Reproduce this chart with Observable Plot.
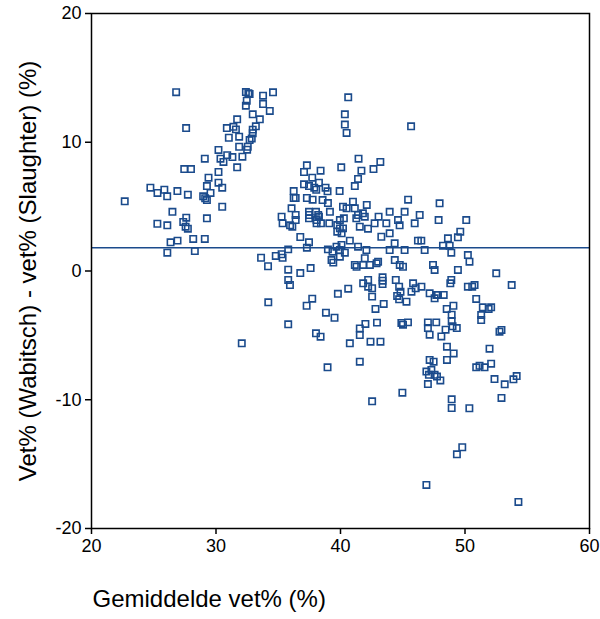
<!DOCTYPE html>
<html>
<head>
<meta charset="utf-8">
<script src="https://cdn.jsdelivr.net/npm/d3@7"></script>
<script src="https://cdn.jsdelivr.net/npm/@observablehq/plot@0.6"></script>
<style>
  html, body { margin: 0; padding: 0; background: #fff; }
  #chart svg { display: block; }
</style>
</head>
<body>
<div id="chart"></div>
<script>
// Gemiddelde vet% (x) and verschil Wabitsch - Slaughter (y)
const gemiddelde = [
  26.8, 32.4, 32.6, 32.4, 27.6, 31.7, 30.87, 31.4, 31.6, 31.86, 31.03, 32.7, 32.55, 31.86, 30.2, 30.36, 30.6, 30.9, 31.32, 32.12,
  31.7, 29.1, 27.45, 27.99, 30.2, 29.4, 30.2, 30.5, 29.27, 29.56, 24.73, 25.3, 25.85, 26.08, 26.9, 27.74, 28.97, 29.13, 29.27, 30.5,
  22.67, 26.5, 25.29, 26.09, 27.61, 27.37, 27.56, 27.74, 29.27, 26.35, 26.91, 28.17, 29.1, 26.09, 28.3,
  32.7, 33.78, 34.58, 32.47, 33.78, 34.32, 32.95, 33.52, 33.2, 32.95, 32.95, 32.87, 32.5, 40.62, 40.35, 40.35, 40.49, 41.45, 37.3, 37.07,
  38.4, 40.06, 37.73, 38.27, 37.07, 37.47, 37.89, 38.05, 38.8, 38.96, 36.24, 36.24, 36.4, 37.3, 37.76, 38.56, 38.99, 39.93, 41.15, 36.07,
  35.27, 35.35, 35.95, 36.13, 36.4, 36.4, 37.47, 37.47, 37.47, 38.03, 38.21, 38.08, 38.08, 38.27, 38.43, 39.15, 40.2, 40.49, 41.15, 41.0,
  39.1, 39.95, 40.27, 39.74, 39.95, 40.2, 39.74, 40.09, 36.77, 37.47, 37.3, 35.8, 35.27, 34.8, 35.35, 33.62, 34.18, 35.8, 36.77, 37.6,
  35.8, 38.99, 39.36, 39.68, 39.95, 40.35, 39.28, 39.42, 39.95, 41.41, 41.15, 41.29,
  45.67, 43.2, 42.65, 41.68, 41.41, 42.11, 41.41, 41.8, 41.95, 41.27, 41.55, 42.21, 42.74, 43.06, 43.68, 43.95, 44.62, 44.75, 45.15, 45.96,
  46.36, 45.43, 47.96, 47.88, 50.1, 40.75, 40.08, 42.08, 43.28, 43.95, 44.35, 43.95, 45.15, 46.22, 46.49, 46.76, 48.63, 48.23, 48.77, 48.9,
  49.43, 49.62, 50.23, 50.36, 41.95, 41.82, 42.36, 43.02, 42.9, 44.36, 44.76, 45.02, 47.43, 47.56, 49.43,
  35.94, 34.2, 35.8, 37.28, 37.73, 38.83, 39.52, 38.03, 38.4, 39.79, 40.62, 40.75, 38.96, 32.07, 41.55, 41.55, 41.55,
  41.82, 42.22, 42.22, 42.54, 42.54, 43.38, 43.38, 43.38, 44.44, 44.71, 44.82, 44.55, 44.71, 45.3, 45.7, 45.83, 46.04, 46.5, 47.16, 47.56,
  47.7, 47.83, 48.29, 48.9, 48.82, 50.23, 43.47, 42.81, 42.93, 42.0, 42.41, 43.21, 44.89, 45.02, 45.42, 47.02, 47.69, 47.02, 47.16, 48.1,
  48.44, 49.0, 49.34, 48.53, 49.07, 48.93, 48.93, 48.55, 49.09, 48.55, 47.16, 47.48, 46.9, 47.3, 47.1, 47.56, 47.75, 48.02, 47.02, 44.97,
  42.54, 48.93, 48.93, 50.35,
  52.51, 53.75, 50.58, 50.77, 50.9, 51.43, 52.1, 51.9, 51.3, 51.3, 52.77, 52.93, 51.97, 50.9, 51.17, 51.57, 52.1, 52.37, 53.19, 53.89,
  54.15, 52.93, 49.78, 49.35, 54.29, 46.9
];
const verschil = [
  13.89, 13.9, 13.8, 12.84, 11.1, 11.78, 11.1, 11.2, 11.0, 10.43, 10.35, 10.17, 9.65, 9.65, 9.4, 8.72, 8.47, 9.0, 8.85, 8.88,
  8.05, 8.72, 7.92, 7.92, 7.69, 7.25, 6.86, 6.47, 6.6, 6.06, 6.47, 6.06, 6.31, 5.8, 6.21, 5.93, 5.8, 5.65, 5.51, 4.99,
  5.41, 4.6, 3.67, 3.55, 4.14, 3.81, 3.44, 3.29, 4.09, 2.23, 2.36, 2.49, 2.49, 1.42, 1.55,
  13.75, 13.62, 13.88, 13.23, 12.97, 12.43, 12.17, 11.78, 11.24, 10.98, 10.7, 10.3, 9.42, 13.49, 12.17, 11.37, 10.72, 8.72, 8.21, 7.69,
  7.79, 8.05, 7.25, 6.86, 6.73, 6.6, 6.47, 6.31, 6.47, 6.19, 6.21, 5.67, 5.67, 5.67, 5.54, 5.51, 5.28, 6.21, 6.6, 4.87,
  4.22, 3.7, 3.55, 3.44, 4.35, 3.96, 4.6, 4.35, 4.09, 4.6, 4.35, 3.96, 3.7, 4.22, 3.7, 4.6, 4.99, 4.87, 4.87, 5.38,
  3.7, 3.96, 4.09, 3.57, 3.31, 3.31, 3.05, 2.93, 2.64, 2.23, 1.81, 1.68, 1.3, 1.17, 1.03, 1.03, 0.37, 0.1, -0.16, 0.23,
  -0.7, 1.68, 1.5, 1.89, 1.63, 1.42, 0.85, 0.65, 1.11, 1.89, 0.47, 0.33,
  11.24, 8.47, 7.92, 7.79, 7.15, 5.13, 4.35, 4.48, 4.22, 4.09, 3.44, 3.29, 3.7, 4.22, 3.7, 4.6, 3.96, 3.55, 4.6, 3.7,
  4.35, 5.54, 5.26, 3.96, 3.96, 2.36, 2.02, 1.63, 2.66, 2.93, 2.15, 1.63, 1.63, 2.36, 2.36, 1.63, 2.54, 1.97, 1.97, 1.42,
  2.62, 3.05, 1.24, 0.72, 0.99, 0.47, 0.47, 0.72, 0.6, 0.85, 0.47, 0.33, 0.47, 0.08, 0.08,
  -1.09, -2.43, -4.14, -2.7, -2.15, -3.24, -3.63, -4.84, -5.1, -1.77, -1.37, -5.62, -7.48, -5.62, -4.46, -4.97, -7.04,
  -0.96, -0.7, -1.22, -1.34, -1.99, -0.49, -0.75, -1.01, -0.7, -1.22, -1.61, -1.94, -2.2, -2.38, -1.61, -0.96, -1.34, -1.22, -1.73, -2.12,
  -1.86, -1.86, -1.86, -0.7, -0.96, -1.22, -2.56, -2.95, -4.01, -4.11, -5.49, -5.49, -4.03, -4.17, -3.99, -3.99, -3.99, -4.43, -4.95, -5.08,
  -4.56, -4.3, -4.43, -2.95, -2.7, -3.39, -3.91, -5.88, -6.4, -6.91, -6.91, -7.04, -7.81, -7.69, -8.06, -8.06, -8.2, -8.5, -8.78, -9.45,
  -10.12, -9.97, -10.64, -10.66,
  -0.18, -1.09, -1.22, -1.09, -2.17, -2.82, -2.82, -2.95, -3.42, -3.81, -4.71, -4.58, -6.03, -7.48, -7.36, -7.48, -7.2, -8.39, -8.8, -8.41,
  -8.16, -9.86, -13.69, -14.24, -17.94, -16.62
];
const gemiddeldVerschil = 1.8;
const xTicks = [20, 30, 40, 50, 60];
const yTicks = [-20, -10, 0, 10, 20];
const xLabel = "Gemiddelde vet% (%)";
const yLabel = "Vet% (Wabitsch) - vet% (Slaughter) (%)";

const n = Math.min(gemiddelde.length, verschil.length);
const data = d3.range(n).map(i => ({x: gemiddelde[i], y: verschil[i]}));

const blue = "#1b4b8c";
const font = "'Liberation Sans', Arial, Helvetica, sans-serif";

const chart = Plot.plot({
  width: 600,
  height: 619,
  marginLeft: 91,
  marginRight: 11,
  marginTop: 13,
  marginBottom: 91,
  style: {fontFamily: font, fontSize: "18px", color: "#000", background: "#fff", overflow: "visible"},
  x: {domain: [20, 60]},
  y: {domain: [-20, 20]},
  marks: [
    Plot.axisX({ticks: xTicks, tickSize: 6, tickPadding: 5, fontSize: 18, tickFormat: d => String(d), label: null, stroke: "#000", strokeWidth: 1.5}),
    Plot.axisY({ticks: yTicks, tickSize: 6, tickPadding: 4, fontSize: 18, tickFormat: d => String(d), label: null, stroke: "#000", strokeWidth: 1.5}),
    Plot.ruleY([gemiddeldVerschil], {stroke: blue, strokeWidth: 1.5}),
    Plot.dot(data, {x: "x", y: "y", symbol: "square", r: 3.6, stroke: blue, strokeWidth: 1.6, fill: "none"}),
    Plot.frame({stroke: "#000", strokeWidth: 1.5}),
    Plot.text([yLabel], {frameAnchor: "left", dx: -63, rotate: -90, textAnchor: "middle", fontSize: 24, fill: "#000"}),
    Plot.text([xLabel], {frameAnchor: "bottom-left", dx: 1, dy: 78, textAnchor: "start", fontSize: 24, fill: "#000"})
  ]
});
document.getElementById("chart").appendChild(chart);
</script>
</body>
</html>
